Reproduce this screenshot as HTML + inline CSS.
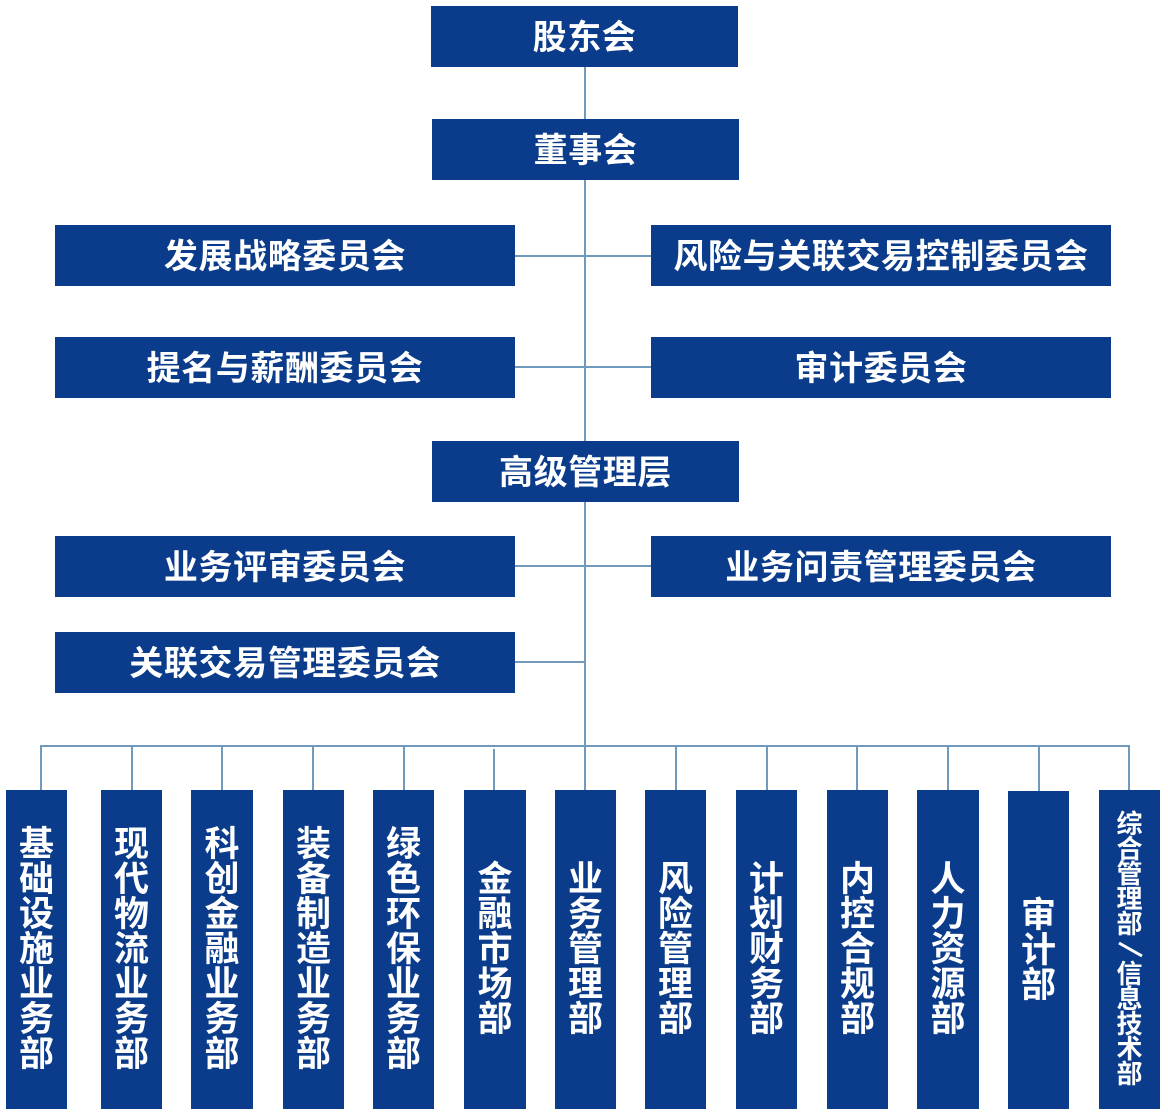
<!DOCTYPE html>
<html>
<head>
<meta charset="utf-8">
<style>
  html,body{margin:0;padding:0;background:#fff;}
  body{width:1168px;height:1120px;position:relative;overflow:hidden;
    font-family:"Liberation Sans","Noto Sans CJK SC","WenQuanYi Zen Hei",sans-serif;}
  .b{position:absolute;background:#0b3c8b;color:#fff;font-weight:bold;box-sizing:border-box;
     display:flex;align-items:center;justify-content:center;font-size:34px;padding-bottom:5px;
     letter-spacing:0.6px;white-space:nowrap;}
  .v{position:absolute;background:#0b3c8b;color:#fff;font-weight:bold;top:790px;height:319px;
     display:flex;flex-direction:column;align-items:center;justify-content:center;}
  .v span{display:block;font-size:35px;line-height:35px;height:35px;width:36px;text-align:center;}
  .v.s span{font-size:26px;line-height:25px;height:25px;width:28px;}
  .l{position:absolute;background:#6f99bd;}
</style>
</head>
<body>
<!-- connectors -->
<div class="l" style="left:584px;top:67px;width:2px;height:680px;"></div>
<div class="l" style="left:515px;top:255px;width:136px;height:2px;"></div>
<div class="l" style="left:515px;top:366px;width:136px;height:2px;"></div>
<div class="l" style="left:515px;top:565px;width:136px;height:2px;"></div>
<div class="l" style="left:515px;top:661px;width:70px;height:2px;"></div>
<div class="l" style="left:40px;top:745px;width:1090px;height:2px;"></div>
<div class="l" style="left:40px;top:746px;width:2px;height:44px;"></div>
<div class="l" style="left:131px;top:746px;width:2px;height:44px;"></div>
<div class="l" style="left:221px;top:746px;width:2px;height:44px;"></div>
<div class="l" style="left:312px;top:746px;width:2px;height:44px;"></div>
<div class="l" style="left:403px;top:746px;width:2px;height:44px;"></div>
<div class="l" style="left:493px;top:749px;width:2px;height:41px;"></div>
<div class="l" style="left:584px;top:746px;width:2px;height:44px;"></div>
<div class="l" style="left:675px;top:746px;width:2px;height:44px;"></div>
<div class="l" style="left:766px;top:746px;width:2px;height:44px;"></div>
<div class="l" style="left:856px;top:746px;width:2px;height:44px;"></div>
<div class="l" style="left:947px;top:746px;width:2px;height:44px;"></div>
<div class="l" style="left:1038px;top:746px;width:2px;height:45px;"></div>
<div class="l" style="left:1128px;top:746px;width:2px;height:44px;"></div>

<!-- top boxes -->
<div class="b" style="left:431px;top:6px;width:307px;height:61px;">股东会</div>
<div class="b" style="left:432px;top:119px;width:307px;height:61px;">董事会</div>
<div class="b" style="left:55px;top:225px;width:460px;height:61px;">发展战略委员会</div>
<div class="b" style="left:651px;top:225px;width:460px;height:61px;">风险与关联交易控制委员会</div>
<div class="b" style="left:55px;top:337px;width:460px;height:61px;">提名与薪酬委员会</div>
<div class="b" style="left:651px;top:337px;width:460px;height:61px;">审计委员会</div>
<div class="b" style="left:432px;top:441px;width:307px;height:61px;">高级管理层</div>
<div class="b" style="left:55px;top:536px;width:460px;height:61px;">业务评审委员会</div>
<div class="b" style="left:651px;top:536px;width:460px;height:61px;">业务问责管理委员会</div>
<div class="b" style="left:55px;top:632px;width:460px;height:61px;">关联交易管理委员会</div>

<!-- bottom departments -->
<div class="v" style="left:6px;width:61px;"><span>基</span><span>础</span><span>设</span><span>施</span><span>业</span><span>务</span><span>部</span></div>
<div class="v" style="left:101px;width:61px;"><span>现</span><span>代</span><span>物</span><span>流</span><span>业</span><span>务</span><span>部</span></div>
<div class="v" style="left:191px;width:62px;"><span>科</span><span>创</span><span>金</span><span>融</span><span>业</span><span>务</span><span>部</span></div>
<div class="v" style="left:283px;width:61px;"><span>装</span><span>备</span><span>制</span><span>造</span><span>业</span><span>务</span><span>部</span></div>
<div class="v" style="left:373px;width:61px;"><span>绿</span><span>色</span><span>环</span><span>保</span><span>业</span><span>务</span><span>部</span></div>
<div class="v" style="left:464px;width:62px;"><span>金</span><span>融</span><span>市</span><span>场</span><span>部</span></div>
<div class="v" style="left:555px;width:61px;"><span>业</span><span>务</span><span>管</span><span>理</span><span>部</span></div>
<div class="v" style="left:645px;width:61px;"><span>风</span><span>险</span><span>管</span><span>理</span><span>部</span></div>
<div class="v" style="left:736px;width:61px;"><span>计</span><span>划</span><span>财</span><span>务</span><span>部</span></div>
<div class="v" style="left:827px;width:61px;"><span>内</span><span>控</span><span>合</span><span>规</span><span>部</span></div>
<div class="v" style="left:917px;width:62px;"><span>人</span><span>力</span><span>资</span><span>源</span><span>部</span></div>
<div class="v" style="left:1008px;width:61px;top:791px;height:318px;"><span>审</span><span>计</span><span>部</span></div>
<div class="v s" style="left:1099px;width:61px;"><span>综</span><span>合</span><span>管</span><span>理</span><span>部</span><span style="position:relative;"><svg width="28" height="25" style="position:absolute;left:0;top:0;"><line x1="3" y1="6" x2="26" y2="19" stroke="#fff" stroke-width="3"/></svg></span><span>信</span><span>息</span><span>技</span><span>术</span><span>部</span></div>
</body>
</html>
